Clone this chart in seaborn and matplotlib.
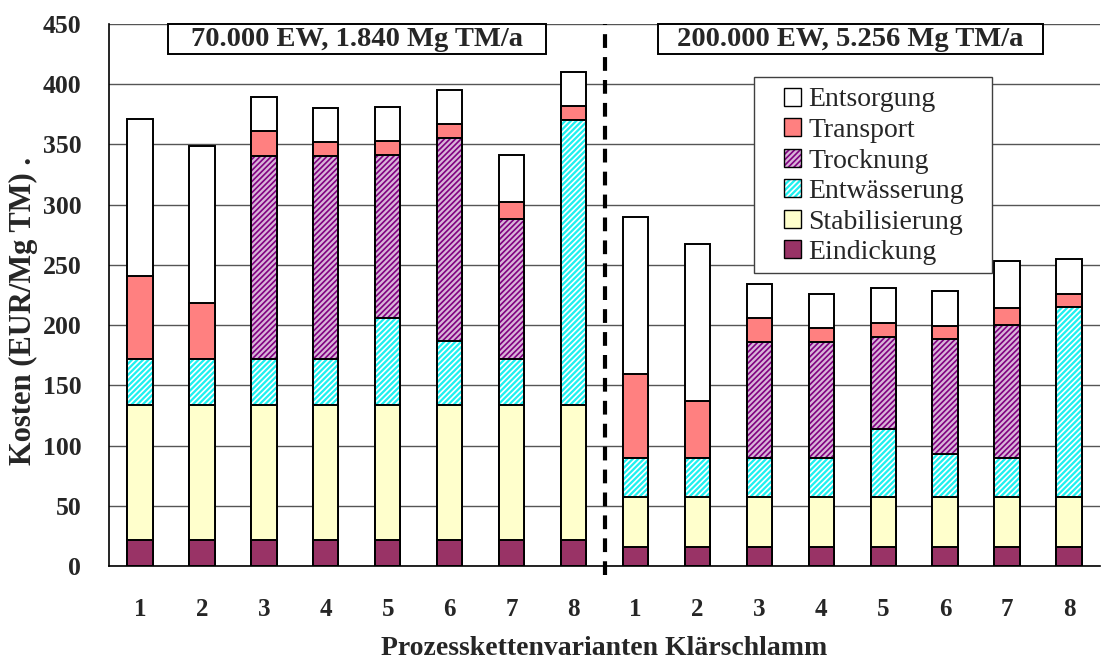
import numpy as np
import matplotlib
matplotlib.use("Agg")
import matplotlib.pyplot as plt
from matplotlib.patches import Patch, Rectangle
from matplotlib.legend_handler import HandlerTuple
import seaborn as sns

# --- data: cost components per process chain variant (EUR/Mg TM) ---
variants = ["1", "2", "3", "4", "5", "6", "7", "8",
            "1", "2", "3", "4", "5", "6", "7", "8"]
eindickung = [22, 22, 22, 22, 22, 22, 22, 22,
              16, 16, 16, 16, 16, 16, 16, 16]
stabilisierung = [111.5, 111.5, 111.5, 111.5, 111.5, 111.5, 111.5, 111.5,
                  41.5, 41.5, 41.5, 41.5, 41.5, 41.5, 41.5, 41.5]
entwaesserung = [38.5, 38.5, 38.5, 38.5, 72.5, 53.5, 38.5, 236.5,
                 32.5, 32.5, 32.5, 32.5, 56.5, 35.5, 32.5, 157.5]
trocknung = [0, 0, 168.5, 168.5, 135, 168.5, 116, 0,
             0, 0, 96, 96, 76.5, 95.5, 110, 0]
transport = [69, 46.5, 20.5, 11.5, 12, 11.5, 14.5, 12,
             69, 47, 19.5, 11.5, 11.5, 11, 14.5, 11]
entsorgung = [130.5, 130, 28, 28.5, 28.5, 28, 39, 28.5,
              130.5, 130.5, 29, 28.5, 29, 28.5, 39, 29]

group_titles = ["70.000 EW, 1.840 Mg TM/a", "200.000 EW, 5.256 Mg TM/a"]
legend_labels = ["Entsorgung", "Transport", "Trocknung",
                 "Entwässerung", "Stabilisierung", "Eindickung"]

# --- styling ---
sns.set_theme(style="white")
plt.rcParams["font.family"] = ["Liberation Serif", "DejaVu Serif"]
plt.rcParams["hatch.linewidth"] = 1.2

C_EIND = "#993366"
C_STAB = "#ffffcc"
C_ENTW_FACE, C_ENTW_HATCH = "#1ef0f0", "#ffffff"
C_TROCK_FACE, C_TROCK_HATCH = "#d8b4d8", "#800080"
C_TRANS = "#ff8080"
C_ENTS = "#ffffff"
HATCH = "//////"
EDGE_LW = 1.4
BAR_W = 0.41

fig = plt.figure(figsize=(11.01, 6.64), dpi=100)
ax = fig.add_axes([109 / 1101, 98 / 664, 991 / 1101, 542 / 664])

pos = np.arange(len(variants))
layers = np.array([eindickung, stabilisierung, entwaesserung,
                   trocknung, transport, entsorgung], dtype=float)
cum = np.cumsum(layers, axis=0)


def bars(y, **kw):
    sns.barplot(x=pos, y=y, width=BAR_W, errorbar=None, ax=ax,
                saturation=1, **kw)


# stacked bars drawn from the total downwards, each layer covering the next
bars(cum[5], color=C_ENTS, edgecolor="black", linewidth=EDGE_LW)
bars(cum[4], color=C_TRANS, edgecolor="black", linewidth=EDGE_LW)
bars(cum[3], color=C_TROCK_FACE, edgecolor=C_TROCK_HATCH, linewidth=0,
     hatch=HATCH)
bars(cum[3], color="black", fill=False, linewidth=EDGE_LW)
bars(cum[2], color=C_ENTW_FACE, edgecolor=C_ENTW_HATCH, linewidth=0,
     hatch=HATCH)
bars(cum[2], color="black", fill=False, linewidth=EDGE_LW)
bars(cum[1], color=C_STAB, edgecolor="black", linewidth=EDGE_LW)
bars(cum[0], color=C_EIND, edgecolor="black", linewidth=EDGE_LW)

# axes
ax.set_xlim(-0.5, 15.356)
ax.set_ylim(0, 450)
ax.set_yticks(np.arange(0, 451, 50))
ax.grid(axis="y", color="#555555", linewidth=1.0)
ax.grid(axis="x", visible=False)
ax.set_axisbelow(True)
for side in ["top", "right"]:
    ax.spines[side].set_visible(False)
for side in ["left", "bottom"]:
    ax.spines[side].set_color("black")
    ax.spines[side].set_linewidth(1.2)

ax.set_xticks(pos)
ax.set_xticklabels(variants, fontsize=18, fontweight="bold")
ax.set_xticks(np.arange(-0.5, 16, 1.0), minor=True)
ax.tick_params(axis="x", which="major", length=0, pad=23)
ax.tick_params(axis="x", which="minor", length=6, width=1.0,
               color="black", direction="out")
ax.tick_params(axis="y", length=6, width=1.0, color="black",
               direction="out", pad=14, labelsize=18.5)
for lab in ax.get_yticklabels():
    lab.set_fontweight("bold")

ax.set_xlabel("Prozesskettenvarianten Klärschlamm", fontsize=20,
              fontweight="bold")
ax.xaxis.set_label_coords(0.5, -0.129)
ax.set_ylabel("Kosten (EUR/Mg TM) .", fontsize=22, fontweight="bold")
ax.yaxis.set_label_coords(-0.0716, 0.47)

# divider between the two plant sizes
ax.axvline(7.5, ymin=-0.017, ymax=1.0, color="black", linewidth=3.0,
           dashes=(3.3, 2.2), clip_on=False, zorder=6)

# group title boxes
for (x0, x1), title in zip([(0.46, 6.556), (8.364, 14.572)], group_titles):
    ax.add_patch(Rectangle((x0, 425.1), x1 - x0, 24.9, facecolor="white",
                           edgecolor="black", linewidth=1.4, zorder=6,
                           clip_on=False))
    ax.text((x0 + x1) / 2, 437.2, title, ha="center", va="center",
            fontsize=20.5, fontweight="bold", zorder=7)

# legend with its own frame
ax.add_patch(Rectangle((0.651, 0.541), 0.240, 0.362, transform=ax.transAxes,
                       facecolor="white", edgecolor="#404040", linewidth=1.0,
                       zorder=5))
handles = [
    Patch(facecolor=C_ENTS, edgecolor="black", linewidth=1.0),
    Patch(facecolor=C_TRANS, edgecolor="black", linewidth=1.0),
    (Patch(facecolor=C_TROCK_FACE, edgecolor=C_TROCK_HATCH, linewidth=0,
           hatch=HATCH),
     Patch(facecolor="none", edgecolor="black", linewidth=1.0)),
    (Patch(facecolor=C_ENTW_FACE, edgecolor=C_ENTW_HATCH, linewidth=0,
           hatch=HATCH),
     Patch(facecolor="none", edgecolor="black", linewidth=1.0)),
    Patch(facecolor=C_STAB, edgecolor="black", linewidth=1.0),
    Patch(facecolor=C_EIND, edgecolor="black", linewidth=1.0),
]
leg = ax.legend(handles, legend_labels, loc="upper left",
                bbox_to_anchor=(0.681, 0.883), borderaxespad=0, borderpad=0,
                frameon=False, fontsize=20, handlelength=0.62,
                handleheight=0.62, handletextpad=0.26, labelspacing=0.2,
                handler_map={tuple: HandlerTuple(ndivide=1, pad=0)})
leg.set_zorder(6)

fig.savefig("out.png", dpi=100)
